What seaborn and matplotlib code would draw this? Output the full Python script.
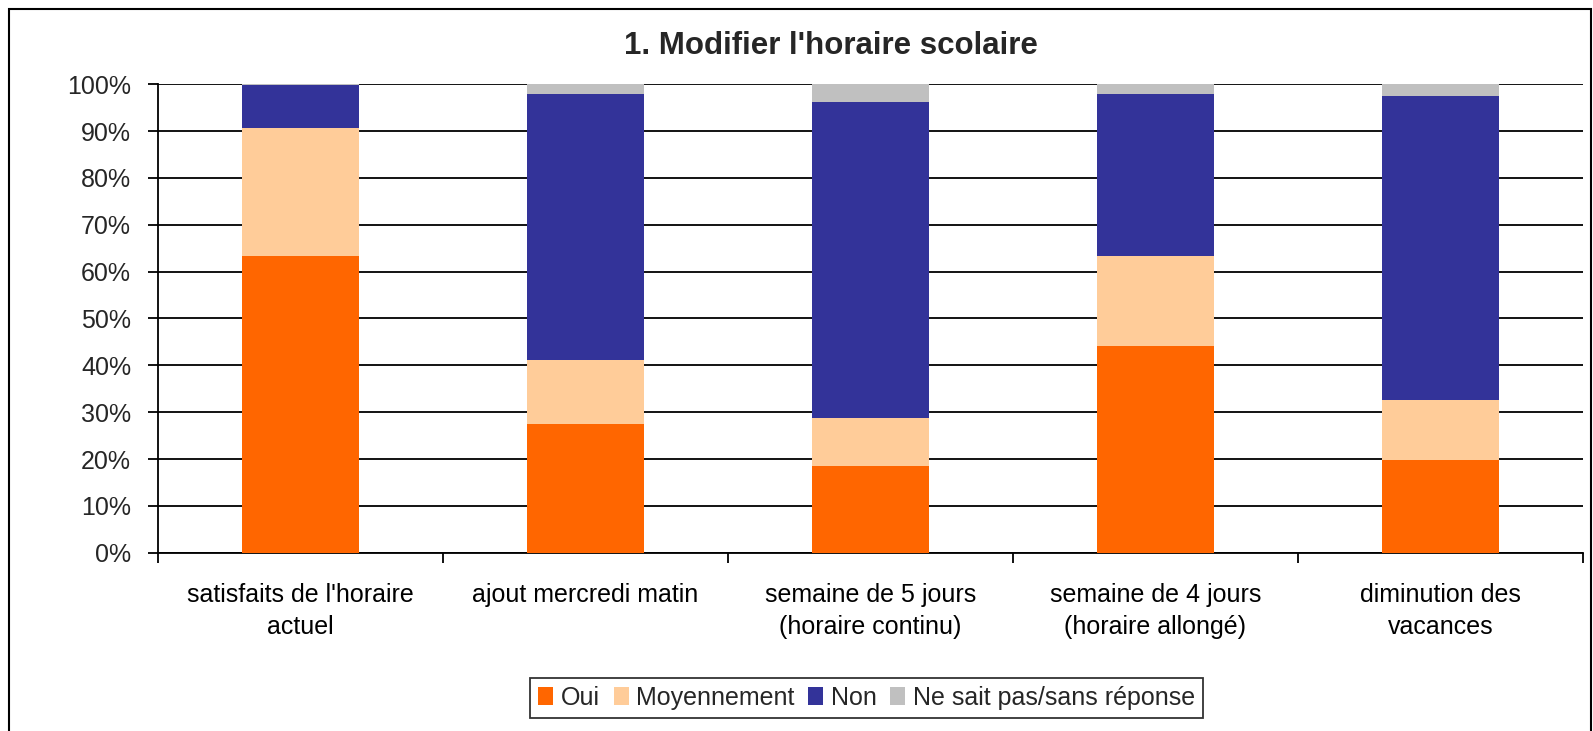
import numpy as np
import pandas as pd
import matplotlib
matplotlib.use("Agg")
import matplotlib.pyplot as plt
import seaborn as sns
from matplotlib.patches import Patch, Rectangle
from matplotlib.ticker import PercentFormatter, FixedLocator

# values (percent)
categories = ["satisfaits de l'horaire\nactuel", "ajout mercredi matin",
              "semaine de 5 jours\n(horaire continu)", "semaine de 4 jours\n(horaire allongé)",
              "diminution des\nvacances"]
oui = [63.3, 27.5, 18.5, 44.2, 19.8]
moyen = [27.4, 13.6, 10.2, 19.1, 12.8]
non = [9.1, 56.9, 67.6, 34.7, 65.0]
nsp = [0.2, 2.0, 3.7, 2.0, 2.4]

series_names = ["Oui", "Moyennement", "Non", "Ne sait pas/sans réponse"]
colors = ["#FF6600", "#FFCC99", "#333399", "#C0C0C0"]

sns.set_theme(style="white")
plt.rcParams["font.family"] = ["Liberation Sans", "DejaVu Sans"]

df = pd.DataFrame({"cat": categories, "Oui": oui, "Moyennement": moyen,
                   "Non": non, "Ne sait pas/sans réponse": nsp})
# cumulative totals so each layer can be drawn from the top down
cum = df[series_names].cumsum(axis=1) / 100.0

fig = plt.figure(figsize=(15.93, 7.31), dpi=100)
ax = fig.add_axes([0.0989, 0.2439, 0.8948, 0.6408])

for name, col in reversed(list(zip(series_names, colors))):
    sns.barplot(x=df["cat"], y=cum[name], color=col, width=0.41,
                saturation=1, ax=ax, zorder=3, linewidth=0)

ax.set_ylim(0, 1)
ax.set_xlim(-0.5, len(categories) - 0.5)
ax.yaxis.set_major_locator(FixedLocator(np.arange(0, 1.01, 0.1)))
ax.yaxis.set_major_formatter(PercentFormatter(1.0, decimals=0))
ax.set_xlabel("")
ax.set_ylabel("")
ax.grid(axis="y", color="#000000", linewidth=1.3, zorder=0)
ax.set_axisbelow(True)

fs = 18
ax.xaxis.set_minor_locator(FixedLocator(np.arange(-0.5, len(categories), 1.0)))
ax.tick_params(axis="x", which="major", length=0, pad=22, labelsize=fs, colors="#000000")
ax.tick_params(axis="x", which="minor", length=7, width=1.3, color="#000000", direction="out")
ax.tick_params(axis="y", which="major", length=7, width=1.3, color="#000000",
               direction="out", labelsize=fs, pad=12)
ax.tick_params(bottom=True, left=True, which="both")
for lbl in ax.get_xticklabels():
    lbl.set_linespacing(1.4)

for side in ["top", "right"]:
    ax.spines[side].set_visible(False)
for side in ["left", "bottom"]:
    ax.spines[side].set_color("#000000")
    ax.spines[side].set_linewidth(1.3)

fig.text(0.5217, 0.9375, "1. Modifier l'horaire scolaire", ha="center", va="center",
         fontsize=22.5, fontweight="bold")

handles = [Patch(facecolor=c, edgecolor="none") for c in colors]
leg = fig.legend(handles, series_names, loc="center", bbox_to_anchor=(0.544, 0.0455),
                 ncol=4, fontsize=fs, frameon=True, fancybox=False,
                 handlelength=0.6, handleheight=0.7, handletextpad=0.3,
                 columnspacing=0.55, borderpad=0.32, borderaxespad=0)
leg.get_frame().set_edgecolor("#000000")
leg.get_frame().set_linewidth(1.3)

# outer chart border
fig.patches.append(Rectangle((9 / 1593, -0.02), 1582 / 1593, 1.02 - 9 / 731,
                             transform=fig.transFigure, fill=False,
                             edgecolor="#000000", linewidth=1.5))

fig.savefig("out.png", dpi=100)
